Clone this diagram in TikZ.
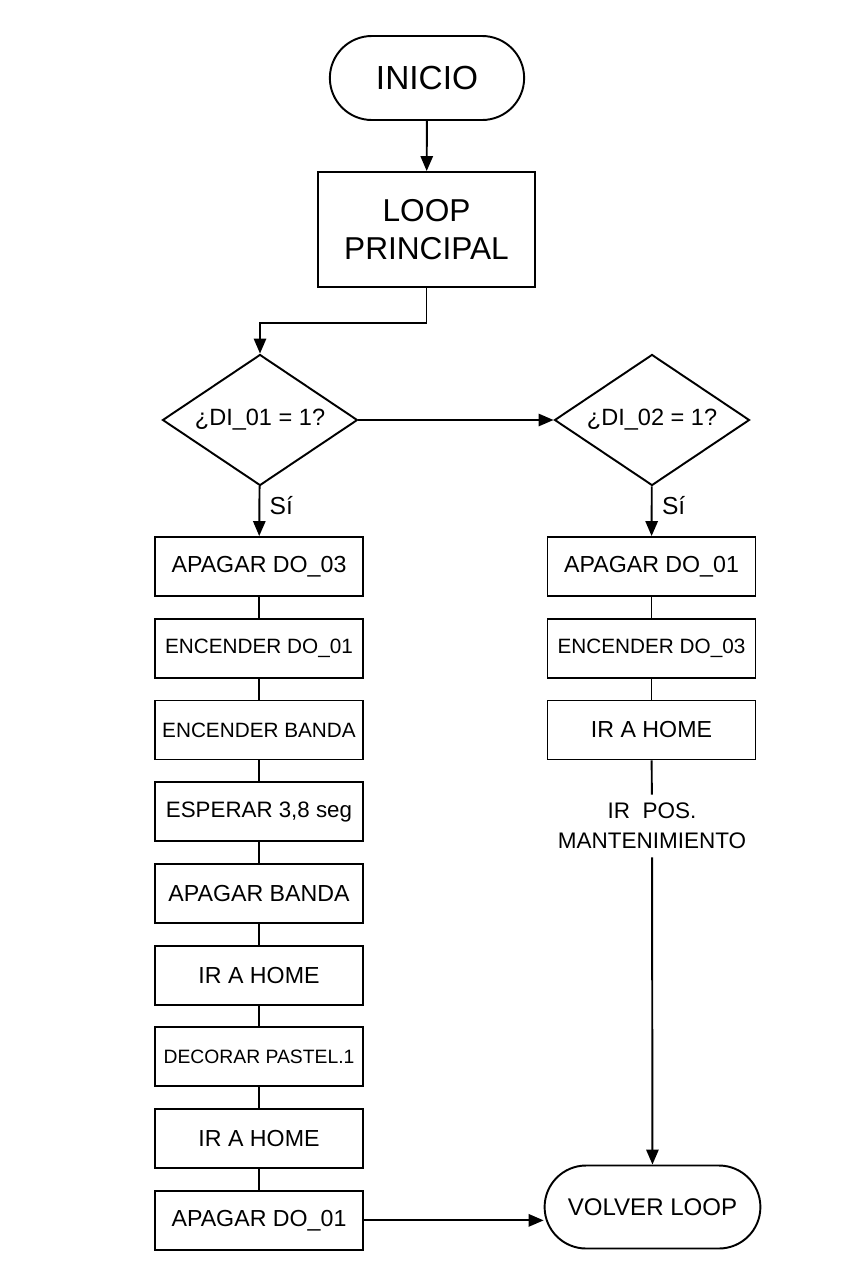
\documentclass[tikz,border=0pt]{standalone}
\usepackage{fontspec}
\setmainfont{Liberation Sans}
\usetikzlibrary{positioning, arrows.meta, shapes.geometric, shapes.misc, calc}

\begin{document}
\begin{tikzpicture}[>={Triangle[length=8.5pt,width=7pt]}, line width=1.1pt, node distance=0.416cm,
  terminal/.style={draw, rounded rectangle, minimum width=4.12cm, minimum height=1.68cm, font=\fontsize{19}{22}\selectfont},
  bloque/.style={draw, minimum width=4.34cm, minimum height=2.3cm, align=center, font=\fontsize{18}{21.6}\selectfont},
  decision/.style={draw, diamond, aspect=1.5, inner sep=0pt, minimum width=3.9cm, minimum height=2.62cm, font=\fontsize{13.4}{16}\selectfont},
  paso/.style={draw, minimum width=4.16cm, minimum height=1.18cm, font=\fontsize{13.2}{15}\selectfont},
  pasochico/.style={paso, font=\fontsize{11.8}{14}\selectfont},
  etiqueta/.style={right, xshift=2pt, yshift=3pt, font=\fontsize{14}{16}\selectfont}]
  \useasboundingbox (0,0) rectangle (17.06,-25.6);

  \node[terminal] (inicio) at (8.54,-1.56) {INICIO};
  \node[bloque] (loop) at (8.53,-4.59) {LOOP\\PRINCIPAL};
  \node[decision] (di1) at (5.2,-8.4) {¿DI\_01 = 1?};
  \node[decision] (di2) at (13.04,-8.4) {¿DI\_02 = 1?};

  % rama izquierda
  \node[paso] (a1) at (5.18,-11.33) {APAGAR DO\_03};
  \node[pasochico, below=of a1] (a2) {ENCENDER DO\_01};
  \node[pasochico, below=of a2] (a3) {ENCENDER BANDA};
  \node[paso, font=\fontsize{12.7}{15}\selectfont, below=of a3] (a4) {ESPERAR 3,8 seg};
  \node[paso, below=of a4] (a5) {APAGAR BANDA};
  \node[paso, below=of a5] (a6) {IR A HOME};
  \node[paso, font=\fontsize{11}{13}\selectfont, below=of a6] (a7) {DECORAR PASTEL.1};
  \node[paso, below=of a7] (a8) {IR A HOME};
  \node[paso, below=of a8] (a9) {APAGAR DO\_01};

  % rama derecha
  \node[paso] (b1) at (13.03,-11.33) {APAGAR DO\_01};
  \node[pasochico, below=of b1] (b2) {ENCENDER DO\_03};
  \node[paso, below=of b2] (b3) {IR A HOME};
  \node[align=center, inner ysep=0.15cm, font=\fontsize{12.8}{17}\selectfont] (mant) at (13.04,-16.52) {IR\ \ POS.\\MANTENIMIENTO};
  \node[terminal, minimum width=4.55cm, minimum height=1.66cm, font=\fontsize{13.7}{16}\selectfont] (volver) at (13.05,-24.14) {VOLVER LOOP};

  \draw[->] (inicio) -- (loop);
  \draw[->] (loop.south) -- ++(0,-0.7) -| (di1.north);
  \draw[->] (di1) -- (di2);
  \draw[->] (di1) -- node[etiqueta] {Sí} (a1);
  \draw[->] (di2) -- node[etiqueta] {Sí} (b1);
  \foreach \i [count=\j from 2] in {1,...,8}
    \draw (a\i) -- (a\j);
  \draw (b1) -- (b2);
  \draw (b2) -- (b3);
  \draw (b3) -- (mant);
  \draw[->] (mant) -- (volver);
  \draw[->] (a9.east) -- (a9.east -| volver.west);
\end{tikzpicture}
\end{document}
